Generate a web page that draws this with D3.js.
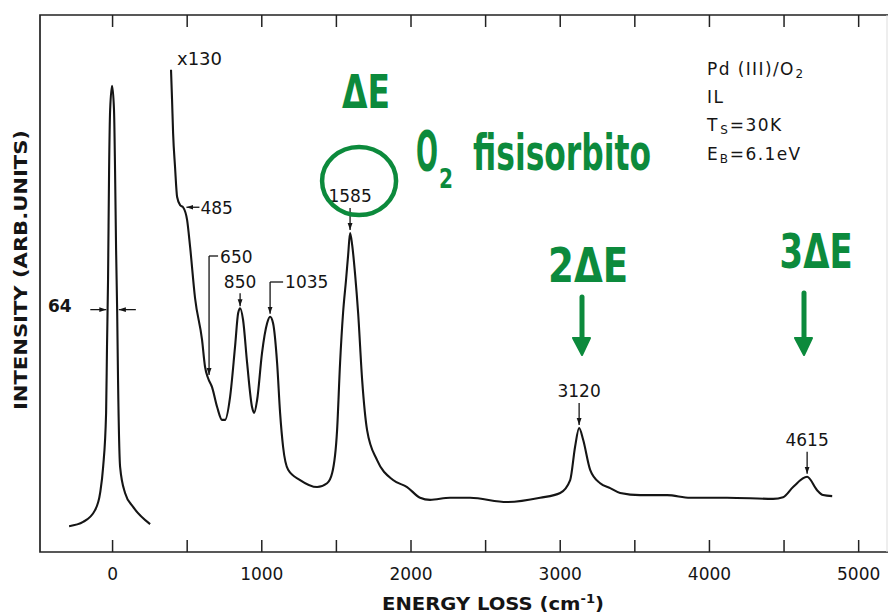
<!DOCTYPE html>
<html>
<head>
<meta charset="utf-8">
<script src="https://cdn.jsdelivr.net/npm/d3@7"></script>
<style>
  body { margin: 0; background: #fff; }
  svg { display: block; }
  text { font-family: "DejaVu Sans", sans-serif; fill: #151515; }
  .hand { font-family: "Liberation Sans Narrow", "DejaVu Sans", sans-serif; font-weight: bold; fill: #0c8a3c; }
</style>
</head>
<body>
<svg width="890" height="616"></svg>
<script>
// elastic peak (drawn at full scale)
const elasticLoss   = [-288, -194, -114, -80, -60, -40, -34, -27, -20, -13, 0, 13, 20, 27, 34, 40, 54, 87, 141, 255]
const elasticCounts = [4.8, 5.6, 7.8, 11.0, 15.8, 25.9, 38.2, 50.7, 71.1, 82.3, 86.8, 82.3, 71.1, 56.2, 45.1, 32.0, 15.8, 11.0, 8.4, 5.2]

// loss spectrum, x130
const lossX130 = [395, 402, 409, 422, 436, 456, 476, 503, 523, 556, 603, 623, 643, 670, 704, 737, 757, 791, 824, 845,
  858, 878, 905, 938, 952, 972, 1005, 1039, 1059, 1079, 1106, 1126, 1146, 1180, 1260, 1374, 1441, 1475, 1508,
  1528, 1548, 1568, 1582, 1595, 1609, 1629, 1649, 1676, 1709, 1776, 1883, 1977, 2064, 2131, 2265, 2399, 2647, 2869, 3003,
  3070, 3103, 3130, 3157, 3204, 3271, 3338, 3405, 3539, 3720, 3874, 4122, 4430, 4497, 4564, 4658, 4725, 4765, 4826]
const countsX130 = [89.8, 84.2, 78.0, 71.7, 66.1, 64.6, 64.2, 61.8, 56.8, 47.3, 39.5, 34.5, 32.4, 30.7, 27.0, 24.6, 24.6, 28.9, 38.2, 44.5,
  45.4, 43.2, 35.2, 27.0, 25.9, 28.3, 37.1, 42.6, 43.8, 42.6, 35.2, 25.9, 19.6, 15.3, 13.4, 12.1, 12.8, 14.7, 22.7,
  35.2, 44.5, 50.7, 55.3, 59.4, 57.2, 51.6, 44.5, 32.0, 22.7, 17.1, 13.4, 12.1, 10.1, 9.7, 10.1, 10.1, 9.3, 10.1, 11.0,
  13.4, 19.6, 23.1, 20.9, 15.3, 12.8, 11.9, 11.0, 10.6, 10.6, 10.1, 10.1, 9.9, 10.2, 12.1, 14.0, 11.5, 10.6, 10.4]

const tickValues = d3.range(0, 5001, 500)
const peakLabels = ['485', '650', '850', '1035', '1585', '3120', '4615']
const fwhm = 64
const scaleLabel = 'x130'
const green = '#0c8a3c'

const svg = d3.select('svg')
const x = d3.scaleLinear().domain([-483, 5200]).range([40, 888])
const y = d3.scaleLinear().domain([0, 100]).range([552, 15])

const elastic = elasticLoss.map((e, i) => ({ e, c: elasticCounts[i] }))
const spectrum = lossX130.map((e, i) => ({ e, c: countsX130[i] }))

// nearest point, and local max near a value
const pt = v => d3.least(spectrum, d => Math.abs(d.e - v))
const peak = v => d3.greatest(spectrum.filter(d => Math.abs(d.e - v) <= 80), d => d.c)

const defs = svg.append('defs')
defs.append('marker')
  .attr('id', 'ah')
  .attr('viewBox', '0 0 10 10')
  .attr('refX', 10).attr('refY', 5)
  .attr('markerUnits', 'userSpaceOnUse')
  .attr('markerWidth', 7).attr('markerHeight', 7)
  .attr('orient', 'auto')
  .append('path').attr('d', 'M0,1.5L10,5L0,8.5Z').attr('fill', '#151515')

//#region frame + axes
const bottomAxis = svg.append('g')
  .attr('transform', `translate(0,${y(0)})`)
  .call(d3.axisBottom(x).tickValues(tickValues).tickSizeInner(-12).tickSizeOuter(0).tickPadding(16)
    .tickFormat(d => d % 1000 === 0 ? d : ''))
bottomAxis.select('.domain').remove()
bottomAxis.selectAll('line').attr('stroke', '#222').attr('stroke-width', 1.5)
bottomAxis.selectAll('text').attr('font-size', 17).attr('fill', '#151515')
  .style('font-family', '"DejaVu Sans", sans-serif')

const topAxis = svg.append('g')
  .attr('transform', `translate(0,${y(100)})`)
  .call(d3.axisTop(x).tickValues(tickValues).tickSizeInner(-12).tickSizeOuter(0).tickFormat(''))
topAxis.select('.domain').remove()
topAxis.selectAll('line').attr('stroke', '#222').attr('stroke-width', 1.5)

const [x0, x1] = x.range()
svg.append('path')
  .attr('d', `M${x1},${y(100)}H${x0}V${y(0)}H${x1}`)
  .attr('fill', 'none').attr('stroke', '#222').attr('stroke-width', 1.7)
svg.append('line')
  .attr('x1', x1 - 1).attr('x2', x1 - 1).attr('y1', y(100)).attr('y2', y(0))
  .attr('stroke', '#ddd').attr('stroke-width', 1)

svg.append('text')
  .attr('transform', `translate(27,270) rotate(-90)`)
  .attr('text-anchor', 'middle')
  .attr('font-size', 17).attr('font-weight', 'bold')
  .attr('textLength', 280).attr('lengthAdjust', 'spacingAndGlyphs')
  .text('INTENSITY (ARB.UNITS)')

const xl = svg.append('text')
  .attr('x', 382).attr('y', 610)
  .attr('font-size', 18).attr('font-weight', 'bold')
  .attr('textLength', 222).attr('lengthAdjust', 'spacingAndGlyphs')
xl.append('tspan').text('ENERGY  LOSS (cm')
xl.append('tspan').attr('font-size', 12).attr('dy', -7).text('-1')
xl.append('tspan').attr('dy', 7).text(')')
//#endregion

//#region curves
const line = d3.line().x(d => x(d.e)).y(d => y(d.c)).curve(d3.curveMonotoneX)
svg.append('path').datum(elastic).attr('d', line)
  .attr('fill', 'none').attr('stroke', '#151515').attr('stroke-width', 2.1)
svg.append('path').datum(spectrum).attr('d', line)
  .attr('fill', 'none').attr('stroke', '#151515').attr('stroke-width', 2.1)
//#endregion

//#region peak labels
const lab = svg.append('g')
const arrow = (xa, ya, xb, yb) => lab.append('line')
  .attr('x1', xa).attr('y1', ya).attr('x2', xb).attr('y2', yb)
  .attr('stroke', '#151515').attr('stroke-width', 1.3).attr('marker-end', 'url(#ah)')
const label = (tx, ty, t, anchor) => lab.append('text')
  .attr('x', tx).attr('y', ty).attr('font-size', 17)
  .attr('text-anchor', anchor || 'start').text(t)

// scale factor
label(x(spectrum[0].e) + 6, 65, scaleLabel).attr('font-size', 18)

peakLabels.forEach(t => {
  const v = +t
  if (t === '485') {
    const p = pt(v), px = x(v), py = y(p.c)
    arrow(px + 15, py, px + 2, py)
    label(px + 16, py + 7, t)
  } else if (t === '650') {
    const p = pt(v), px = x(v), py = y(p.c)
    lab.append('path').attr('d', `M${px + 9},256H${px}`).attr('fill', 'none')
      .attr('stroke', '#151515').attr('stroke-width', 1.3)
    arrow(px, 256, px, py - 3)
    label(px + 11, 263, t)
  } else if (t === '850') {
    const p = peak(v), px = x(p.e), py = y(p.c)
    label(px, py - 20, t, 'middle')
    arrow(px, py - 15, px, py - 2)
  } else if (t === '1035') {
    const p = peak(v), px = x(p.e), py = y(p.c)
    lab.append('path').attr('d', `M${px + 13},282H${px}`).attr('fill', 'none')
      .attr('stroke', '#151515').attr('stroke-width', 1.3)
    arrow(px, 282, px, py - 3)
    label(px + 15, 288, t)
  } else {
    const p = peak(v), px = x(p.e), py = y(p.c)
    label(px, py - 31, t, 'middle')
    arrow(px, py - 25, px, py - 3)
  }
})

// resolution (FWHM of elastic peak)
const hy = y(d3.max(elasticCounts) * 0.52)
label(48, hy + 2, String(fwhm)).attr('font-weight', 'bold')
arrow(x(-fwhm / 2) - 17, hy, x(-fwhm / 2) - 1, hy)
arrow(x(fwhm / 2) + 19, hy, x(fwhm / 2) + 2, hy)
//#endregion

//#region info block
// each piece is its own text, subscripts placed after measuring what comes before
const info = svg.append('g')
const addLine = (ty, parts) => {
  let cx = 707
  parts.forEach(([s, sub]) => {
    const t = info.append('text')
      .attr('x', cx).attr('y', sub ? ty + 3 : ty)
      .attr('font-size', sub ? 12 : 17)
      .attr('letter-spacing', 1.4)
      .text(s)
    cx += t.node().getBBox().width + 0.5
  })
}
addLine(75, [['Pd (III)/O'], ['2', true]])
addLine(103, [['IL']])
addLine(131, [['T'], ['S', true], ['=30K']])
addLine(160, [['E'], ['B', true], ['=6.1eV']])
//#endregion

//#region handwritten notes
const notes = svg.append('g')
const p1585 = peak(1585), p3120 = peak(3120), p4615 = peak(4615)

notes.append('text').attr('class', 'hand')
  .attr('x', x(p1585.e) - 8).attr('y', 108).attr('font-size', 46)
  .attr('textLength', 48).attr('lengthAdjust', 'spacingAndGlyphs').text('ΔE')

notes.append('ellipse')
  .attr('cx', x(p1585.e) + 9).attr('cy', 181).attr('rx', 37).attr('ry', 34)
  .attr('fill', 'none').attr('stroke', green).attr('stroke-width', 4.5)

notes.append('text').attr('class', 'hand').attr('x', 416).attr('y', 170).attr('font-size', 56)
  .attr('textLength', 22).attr('lengthAdjust', 'spacingAndGlyphs').text('O')
notes.append('text').attr('class', 'hand').attr('x', 439).attr('y', 188).attr('font-size', 26)
  .attr('textLength', 14).attr('lengthAdjust', 'spacingAndGlyphs').text('2')
notes.append('text').attr('class', 'hand').attr('x', 473).attr('y', 170).attr('font-size', 50)
  .attr('textLength', 178).attr('lengthAdjust', 'spacingAndGlyphs').text('fisisorbito')

const hands = [[p3120, '2ΔE', 80, 282, 582, 297], [p4615, '3ΔE', 73, 268, 804, 293]]
hands.forEach(([p, t, w, ty, ax, ay]) => {
  notes.append('text').attr('class', 'hand')
    .attr('x', x(p.e) + 9).attr('y', ty).attr('text-anchor', 'middle').attr('font-size', 48)
    .attr('textLength', w).attr('lengthAdjust', 'spacingAndGlyphs').text(t)
  notes.append('line').attr('x1', ax).attr('x2', ax).attr('y1', ay).attr('y2', 342)
    .attr('stroke', green).attr('stroke-width', 5).attr('stroke-linecap', 'round')
  notes.append('path').attr('d', `M${ax - 9},338L${ax + 8},338L${ax},355Z`)
    .attr('fill', green).attr('stroke', green).attr('stroke-width', 2).attr('stroke-linejoin', 'round')
})
//#endregion
</script>
</body>
</html>
